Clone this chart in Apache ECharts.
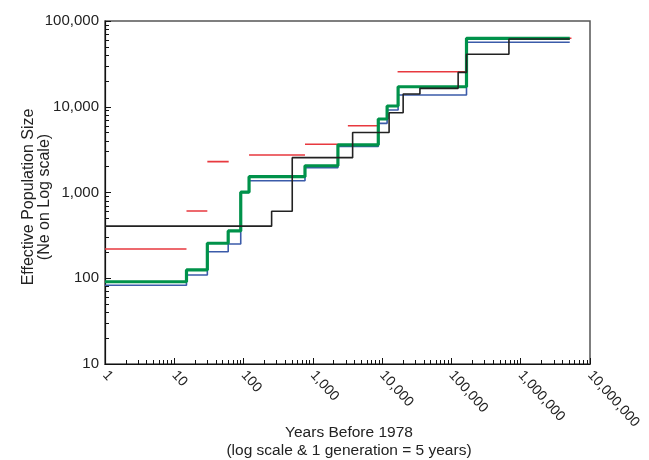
<!DOCTYPE html>
<html>
<head>
<meta charset="utf-8">
<script src="https://cdn.jsdelivr.net/npm/echarts@6/dist/echarts.min.js"></script>
<style>
  html, body { margin: 0; padding: 0; background: #fff; }
  #chart-container { width: 649px; height: 460px; }
</style>
</head>
<body>
<div id="chart-container"></div>
<script>
// step breakpoints (years before 1978) and Ne levels
var stepYears = [1, 15, 30, 60, 91, 120, 770, 2300, 8800, 11800, 17000, 165000, 5100000];
var greenNe = [91, 125, 256, 356, 1010, 1530, 2050, 3600, 7200, 10200, 17100, 62800, 62800];
var blueNe = [83, 109, 204, 251, 1000, 1370, 1950, 3450, 6400, 9150, 13700, 56500, 56500];

var blackYears = [1, 254, 504, 3750, 12600, 20100, 35100, 125000, 165000, 676000, 5100000];
var blackNe = [405, 605, 2550, 5000, 8500, 14100, 16400, 25200, 40900, 61700, 61700];

// red: separate horizontal segments [from, to, Ne]
var redFrom = [1, 15, 30, 120, 770, 3200, 16700, 165000];
var redTo = [15, 30, 61, 770, 2300, 9100, 165000, 5400000];
var redNe = [219, 608, 2290, 2740, 3650, 6000, 25600, 62800];

function pairs(xs, ys) {
  return xs.map(function (x, i) { return [x, ys[i]]; });
}
var redData = [];
redFrom.forEach(function (x, i) {
  redData.push([x, redNe[i]], [redTo[i], redNe[i]], [redTo[i], '-']);
});

function fmt(v) {
  return Math.round(v).toLocaleString('en-US');
}

var dom = document.getElementById("chart-container");
var myChart = echarts.init(dom, null, { renderer: "canvas" });
var font = "Liberation Sans, Arial, Helvetica, sans-serif";

var option = {
  animation: false,
  grid: {
    left: 105, right: 59, top: 21, bottom: 96,
    show: true, borderColor: "#555", borderWidth: 1.5
  },
  xAxis: {
    type: "log", logBase: 10, min: 1, max: 10000000,
    axisLine: { lineStyle: { color: "#111", width: 1.2 } },
    axisTick: { inside: true, length: 6, lineStyle: { color: "#111" } },
    minorTick: { show: true, splitNumber: 9, length: 4, lineStyle: { color: "#111" } },
    splitLine: { show: false },
    axisLabel: {
      rotate: -48, margin: 9, formatter: fmt,
      color: "#222", fontSize: 14, fontFamily: font
    }
  },
  yAxis: {
    type: "log", logBase: 10, min: 10, max: 100000,
    axisLine: { lineStyle: { color: "#111", width: 1.2 } },
    axisTick: { inside: true, length: 6, lineStyle: { color: "#111" } },
    minorTick: { show: true, splitNumber: 9, length: 4, lineStyle: { color: "#111" } },
    splitLine: { show: false },
    axisLabel: { margin: 6, formatter: fmt, color: "#222", fontSize: 15, fontFamily: font }
  },
  graphic: [
    {
      type: "text", x: 29, y: 197, rotation: Math.PI / 2,
      style: { text: "Effective Population Size", fill: "#222", font: "16px " + font, align: "center", verticalAlign: "middle" }
    },
    {
      type: "text", x: 45, y: 197, rotation: Math.PI / 2,
      style: { text: "(Ne on Log scale)", fill: "#222", font: "16px " + font, align: "center", verticalAlign: "middle" }
    },
    {
      type: "text", x: 349, y: 433,
      style: { text: "Years Before 1978", fill: "#222", font: "15.5px " + font, align: "center", verticalAlign: "middle" }
    },
    {
      type: "text", x: 349, y: 451,
      style: { text: "(log scale & 1 generation = 5 years)", fill: "#222", font: "15.5px " + font, align: "center", verticalAlign: "middle" }
    }
  ],
  series: [
    {
      name: "blue", type: "line", step: "end", symbol: "none", z: 2,
      lineStyle: { color: "#3b5ba9", width: 1.6 },
      data: pairs(stepYears, blueNe)
    },
    {
      name: "red", type: "line", symbol: "none", z: 3, connectNulls: false,
      lineStyle: { color: "#e8393f", width: 1.6 },
      data: redData
    },
    {
      name: "green", type: "line", step: "end", symbol: "none", z: 4,
      lineStyle: { color: "#00924a", width: 3.2 },
      data: pairs(stepYears, greenNe)
    },
    {
      name: "black", type: "line", step: "end", symbol: "none", z: 5,
      lineStyle: { color: "#222", width: 1.6 },
      data: pairs(blackYears, blackNe)
    }
  ]
};

myChart.setOption(option);
window.addEventListener("resize", myChart.resize);
</script>
</body>
</html>
